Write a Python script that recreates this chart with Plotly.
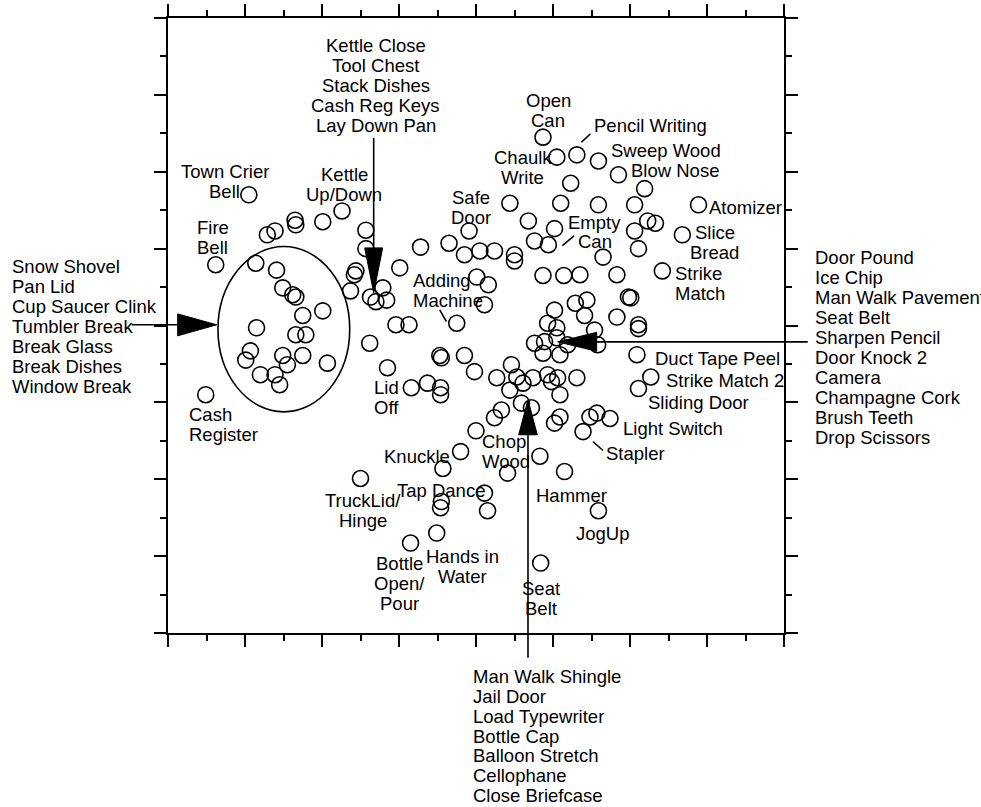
import plotly.graph_objects as go

# Sound events placed in a two-dimensional perceptual space (dimension 1, dimension 2)
dim1 = [
    -2.95, -1.74, -1.99, -2.35, -2.34, -2.61, -2.71, -1.43, -3.38, -2.86,
    -1.43, -1.56, -1.58, -2.59, -2.51, -2.38, -2.34, -1.63, -1.21, -1.37,
    -1.30, -1.16, -1.99, -2.25, -2.85, -2.34, -2.21, -2.93, -2.99, -2.51,
    -2.45, -2.25, -1.93, -2.80, -2.61, -2.55, -1.38, -1.15, -3.51, -1.04,
    -0.87, -0.99, 0.87, 1.05, 1.31, 1.59, 1.85, 1.23, 2.19, 0.44,
    1.10, 1.59, 2.06, 2.89, 0.68, 1.02, 2.23, 2.33, 2.06, 2.68,
    -0.09, 0.76, 0.94, -0.72, -0.35, -0.15, 0.05, 0.24, 0.50, 0.50,
    1.65, 2.11, 0.87, 1.14, 1.35, 1.83, 2.42, 0.01, 0.16, 0.11,
    -0.25, 1.98, 2.01, 1.29, 1.44, 1.02, 1.41, 1.83, 0.93, 1.05,
    1.54, 2.11, 2.11, 1.05, 0.76, 0.89, 1.19, 0.87, 1.09, 1.58,
    2.09, -0.47, -0.45, -0.15, -0.02, 0.46, 0.27, 0.53, 0.61, 0.74,
    0.44, 0.93, 0.98, 1.06, 1.31, 1.09, 0.59, 0.72, 0.33, 0.24,
    1.09, 1.02, 1.48, 1.57, 1.74, 1.39, 2.27, 2.11, -0.84, -0.63,
    -0.46, -0.46, 0.00, -0.20, 0.83, -0.43, 0.41, 1.15, -1.50, 0.11,
    -0.45, -0.46, 0.15, 1.59, -0.51, -0.85, 0.84,
]
dim2 = [
    1.70, 1.49, 1.35, 1.37, 1.31, 1.23, 1.18, 1.24, 0.79, 0.81,
    1.00, 0.71, 0.66, 0.72, 0.49, 0.40, 0.37, 0.45, 0.49, 0.37,
    0.31, 0.33, 0.19, 0.13, -0.03, -0.12, -0.12, -0.33, -0.45, -0.39,
    -0.51, -0.39, -0.49, -0.64, -0.64, -0.77, -0.23, -0.55, -0.90, 0.01,
    0.01, 0.75, 2.45, 2.19, 2.22, 2.14, 1.96, 1.85, 1.78, 1.59,
    1.59, 1.57, 1.57, 1.57, 1.36, 1.26, 1.36, 1.33, 1.23, 1.18,
    1.23, 1.10, 1.05, 1.02, 1.07, 0.92, 0.97, 0.97, 0.92, 0.84,
    0.89, 1.00, 0.65, 0.65, 0.66, 0.66, 0.71, 0.63, 0.53, 0.27,
    0.03, 0.37, 0.36, 0.29, 0.33, 0.20, 0.13, 0.11, 0.03, -0.03,
    -0.06, 0.01, -0.04, -0.16, -0.23, -0.21, -0.25, -0.36, -0.38, -0.25,
    -0.38, -0.39, -0.42, -0.39, -0.60, -0.51, -0.68, -0.67, -0.75, -0.68,
    -0.84, -0.64, -0.73, -0.68, -0.68, -0.90, -1.01, -1.07, -1.10, -1.20,
    -1.19, -1.27, -1.19, -1.14, -1.21, -1.38, -0.67, -0.82, -0.81, -0.75,
    -0.81, -0.90, -1.37, -1.64, -1.70, -1.86, -1.92, -1.90, -1.99, -2.18,
    -2.29, -2.37, -2.41, -2.41, -2.70, -2.83, -3.09,
]

# Point labels inside the plot: (text, x, y of first line, anchor)
point_labels = [
    ("Kettle Close\nTool Chest\nStack Dishes\nCash Reg Keys\nLay Down Pan", -1.30, 3.64, "center"),
    ("Town Crier\nBell", -3.26, 2.00, "center"),
    ("Kettle\nUp/Down", -1.71, 1.97, "center"),
    ("Fire\nBell", -3.42, 1.27, "center"),
    ("Safe\nDoor", -0.06, 1.66, "center"),
    ("Chaulk\nWrite", 0.61, 2.18, "center"),
    ("Open\nCan", 0.94, 2.93, "center"),
    ("Pencil Writing", 1.53, 2.60, "left"),
    ("Sweep Wood", 1.75, 2.27, "left"),
    ("Blow Nose", 2.01, 2.02, "left"),
    ("Empty\nCan", 1.54, 1.34, "center"),
    ("Atomizer", 3.02, 1.54, "left"),
    ("Slice\nBread", 3.10, 1.21, "center"),
    ("Strike\nMatch", 2.58, 0.68, "left"),
    ("Adding\nMachine", -0.82, 0.58, "left"),
    ("Lid\nOff", -1.16, -0.80, "center"),
    ("Cash\nRegister", -3.73, -1.16, "left"),
    ("Duct Tape Peel", 2.32, -0.43, "left"),
    ("Strike Match 2", 2.47, -0.72, "left"),
    ("Sliding Door", 2.23, -1.00, "left"),
    ("Light Switch", 1.91, -1.34, "left"),
    ("Stapler", 1.69, -1.66, "left"),
    ("Knuckle", -0.76, -1.71, "center"),
    ("Chop\nWood", 0.08, -1.51, "left"),
    ("Tap Dance", -0.46, -2.14, "center"),
    ("TruckLid/\nHinge", -1.47, -2.28, "center"),
    ("Hammer", 1.24, -2.21, "center"),
    ("JogUp", 1.64, -2.70, "center"),
    ("Bottle\nOpen/\nPour", -0.99, -3.09, "center"),
    ("Hands in\nWater", -0.17, -3.00, "center"),
    ("Seat\nBelt", 0.85, -3.42, "center"),
]

# Grouped sound lists pointed at by the arrows
left_group = ["Snow Shovel", "Pan Lid", "Cup Saucer Clink", "Tumbler Break",
              "Break Glass", "Break Dishes", "Window Break"]
right_group = ["Door Pound", "Ice Chip", "Man Walk Pavement", "Seat Belt",
               "Sharpen Pencil", "Door Knock 2", "Camera", "Champagne Cork",
               "Brush Teeth", "Drop Scissors"]
bottom_group = ["Man Walk Shingle", "Jail Door", "Load Typewriter", "Bottle Cap",
                "Balloon Stretch", "Cellophane", "Close Briefcase"]

FONT = dict(family="Arial, Liberation Sans, sans-serif", size=18.5, color="black")
LINE_GAP = 20

fig = go.Figure()
fig.add_trace(go.Scatter(
    x=dim1, y=dim2, mode="markers",
    marker=dict(symbol="circle-open", size=16, color="black",
                line=dict(width=1.6, color="black")),
    hoverinfo="skip", showlegend=False,
))

annotations = []


def add_text(lines, x, y, anchor, xref="x", yref="y", gap=LINE_GAP):
    for i, line in enumerate(lines):
        annotations.append(dict(
            text=line, x=x, y=y, xref=xref, yref=yref,
            xanchor=anchor, yanchor="middle", yshift=-gap * i,
            showarrow=False, font=FONT, borderpad=0, borderwidth=0,
        ))


for text, x, y, anchor in point_labels:
    gap = 19 if text.startswith("Empty") else LINE_GAP
    add_text(text.split("\n"), x, y, anchor, gap=gap)

add_text(left_group, -0.2526, 0.767, "left", xref="paper", yref="y")
add_text(right_group, 1.0498, 0.880, "left", xref="paper", yref="y")
add_text(bottom_group, -0.039, -0.0710, "left", xref="x", yref="paper", gap=19.8)

line_style = dict(color="black", width=1.6)
shapes = [
    # cluster outline
    dict(type="circle", xref="x", yref="y", x0=-3.351, x1=-1.640, y0=-1.123, y1=1.027,
         line=line_style, layer="above"),
    # left arrow
    dict(type="line", xref="paper", yref="paper", x0=-0.0589, x1=0.0190, y0=0.5011, y1=0.5011,
         line=line_style),
    dict(type="path", xref="paper", yref="paper",
         path="M 0.0157 0.5189 L 0.0791 0.5011 L 0.0157 0.4832 Z",
         fillcolor="black", line=dict(color="black", width=1)),
    # top arrow
    dict(type="line", xref="paper", yref="paper", x0=0.3339, x1=0.3339, y0=0.8050, y1=0.6262,
         line=line_style),
    dict(type="path", xref="paper", yref="paper",
         path="M 0.3193 0.6262 L 0.3339 0.5531 L 0.3485 0.6262 Z",
         fillcolor="black", line=dict(color="black", width=1)),
    # right arrow
    dict(type="line", xref="paper", yref="paper", x0=1.0385, x1=0.6959, y0=0.4734, y1=0.4734,
         line=line_style),
    dict(type="path", xref="paper", yref="paper",
         path="M 0.6959 0.4889 L 0.6326 0.4734 L 0.6959 0.4580 Z",
         fillcolor="black", line=dict(color="black", width=1)),
    # bottom arrow
    dict(type="line", xref="paper", yref="paper", x0=0.5844, x1=0.5844, y0=-0.0401, y1=0.3223,
         line=line_style),
    dict(type="path", xref="paper", yref="paper",
         path="M 0.5693 0.3223 L 0.5844 0.3792 L 0.5995 0.3223 Z",
         fillcolor="black", line=dict(color="black", width=1)),
    # short leader lines
    dict(type="line", xref="x", yref="y", x0=1.122, y0=1.040, x1=1.273, y1=1.166, line=line_style),
    dict(type="line", xref="x", yref="y", x0=1.369, y0=2.384, x1=1.486, y1=2.492, line=line_style),
    dict(type="line", xref="x", yref="y", x0=-0.471, y0=0.204, x1=-0.384, y1=0.051, line=line_style),
    dict(type="line", xref="x", yref="y", x0=1.519, y0=-1.509, x1=1.649, y1=-1.626, line=line_style),
]

axis_common = dict(
    range=[-4, 4], dtick=1, tick0=0, showticklabels=False, showgrid=False, zeroline=False,
    showline=True, linecolor="black", linewidth=2, mirror="ticks",
    ticks="outside", ticklen=12, tickwidth=2, tickcolor="black",
    minor=dict(dtick=0.5, ticks="outside", ticklen=6, tickwidth=2, tickcolor="black",
               showgrid=False),
    automargin=False, fixedrange=True,
)

fig.update_layout(
    width=981, height=807,
    margin=dict(l=168, r=197, t=18, b=174, pad=0, autoexpand=False),
    paper_bgcolor="white", plot_bgcolor="white",
    xaxis=axis_common, yaxis=axis_common,
    annotations=annotations, shapes=shapes,
    showlegend=False,
)

fig.write_html("out.html", config={"displayModeBar": False})
